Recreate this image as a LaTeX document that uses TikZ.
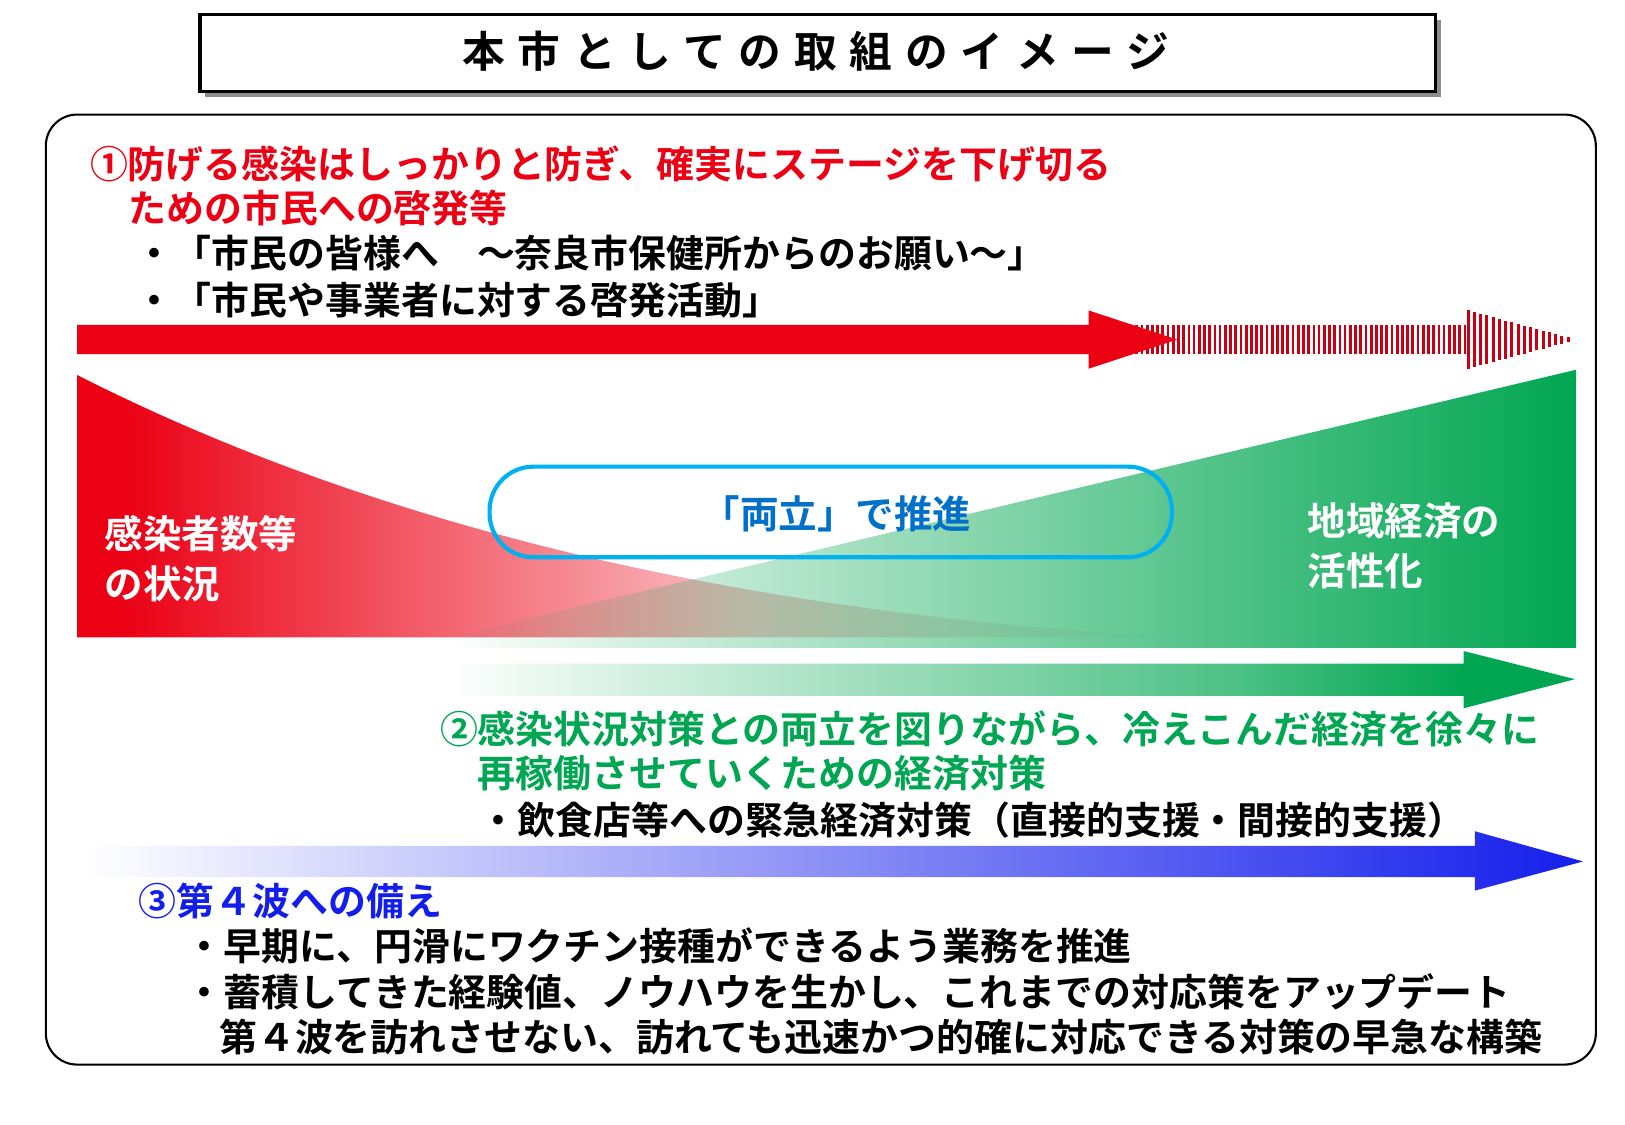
\documentclass[tikz,border=0pt]{standalone}
\usepackage{fontspec}
\setmainfont{Noto Sans CJK JP}[BoldFont={Noto Sans CJK JP Bold}]
\usetikzlibrary{fadings}
\definecolor{jred}{RGB}{235,0,20}
\definecolor{jgreen}{RGB}{0,166,81}
\definecolor{jblue}{RGB}{20,30,235}
\definecolor{jcyan}{RGB}{0,176,240}
\definecolor{jtxtblue}{RGB}{0,112,200}
\pgfdeclarehorizontalshading{redfade}{100bp}{color(0bp)=(jred); color(27bp)=(jred); color(40bp)=(jred!65); color(55bp)=(jred!25); color(68bp)=(jred!8); color(75bp)=(white); color(100bp)=(white)}
\pgfdeclarehorizontalshading{greenfade}{100bp}{color(0bp)=(white); color(25bp)=(white); color(40bp)=(jgreen!30); color(60bp)=(jgreen!70); color(70bp)=(jgreen); color(100bp)=(jgreen)}
\tikzset{
 txt/.style={anchor=west,inner sep=0,font=\bfseries\fontsize{18.2}{20}\selectfont},
 wtxt/.style={anchor=west,inner sep=0,align=left,text=white,font=\bfseries\fontsize{18.5}{24}\selectfont},
}
\begin{document}
\begin{tikzpicture}[x=0.5pt,y=-0.5pt]
\useasboundingbox (0,0) rectangle (1560,1080);
% title
\fill[black!45] (197,19) rectangle (1383,93);
\draw[line width=1.5pt,fill=white] (192,14) rectangle (1378,88);
\node[inner sep=0,font=\bfseries\fontsize{20.5}{24}\selectfont\addfontfeature{LetterSpace=30}] (title) at (783,49) {本市としての取組のイメージ};
% outer frame
\draw[line width=1pt,rounded corners=15pt] (44,110) rectangle (1532,1022);
% red gradient area
\shade[shading=redfade] (74,360) .. controls (350,500) and (700,590) .. (1140,612) -- (74,612) -- cycle;
% green gradient area
\fill[jgreen,path fading=west] (430,612) -- (1513,355) -- (1513,622) -- (430,622) -- cycle;
% red arrow with stripes
\foreach \x in {1090,1095,...,1405} \fill[jred!85!black] (\x,312) rectangle (\x+2.6,340);
\foreach \x in {1408,1414,...,1508}{
  \pgfmathsetmacro{\h}{28*(1512-\x)/104}
  \fill[jred!85!black] (\x,326-\h) rectangle (\x+2.8,326+\h);}
\fill[jred] (74,312) -- (1045,312) -- (1045,298) -- (1130,326) -- (1045,354) -- (1045,340) -- (74,340) -- cycle;
% green arrow
\shade[shading=greenfade] (430,637) -- (1405,637) -- (1405,625) -- (1512,652) -- (1405,680) -- (1405,668) -- (430,668) -- cycle;
% blue arrow
\fill[jblue,path fading=west] (85,812) -- (1418,812) -- (1418,798) -- (1522,827) -- (1418,855) -- (1418,842) -- (85,842) -- cycle;
% blue rounded box
\draw[jcyan,line width=2pt,rounded corners=21pt] (470,448) rectangle (1125,535);
\node[inner sep=0,text=jtxtblue,font=\bfseries\fontsize{18.5}{20}\selectfont] (ryo) at (803,493) {「両立」で推進};
% white labels
\node[wtxt] (lbl1) at (100,536) {感染者数等\\の状況};
\node[wtxt] (lbl2) at (1255,524) {地域経済の\\活性化};
% section 1
\node[txt,text=jred] (s1a) at (86,157) {①防げる感染はしっかりと防ぎ、確実にステージを下げ切る};
\node[txt,text=jred] (s1b) at (123,200) {ための市民への啓発等};
\node[txt] (s1c) at (130,243) {・「市民の皆様へ　～奈良市保健所からのお願い～」};
\node[txt] (s1d) at (130,288) {・「市民や事業者に対する啓発活動」};
% section 2
\node[txt,text=jgreen] (s2a) at (422,700) {②感染状況対策との両立を図りながら、冷えこんだ経済を徐々に};
\node[txt,text=jgreen] (s2b) at (458,742) {再稼働させていくための経済対策};
\node[txt] (s2c) at (460,787) {・飲食店等への緊急経済対策（直接的支援・間接的支援）};
% section 3
\node[txt,text=jblue] (s3a) at (133,865) {③第４波への備え};
\node[txt] (s3b) at (178,908) {・早期に、円滑にワクチン接種ができるよう業務を推進};
\node[txt] (s3c) at (178,952) {・蓄積してきた経験値、ノウハウを生かし、これまでの対応策をアップデート};
\node[txt] (s3d) at (210,995) {第４波を訪れさせない、訪れても迅速かつ的確に対応できる対策の早急な構築};
\end{tikzpicture}
\end{document}
